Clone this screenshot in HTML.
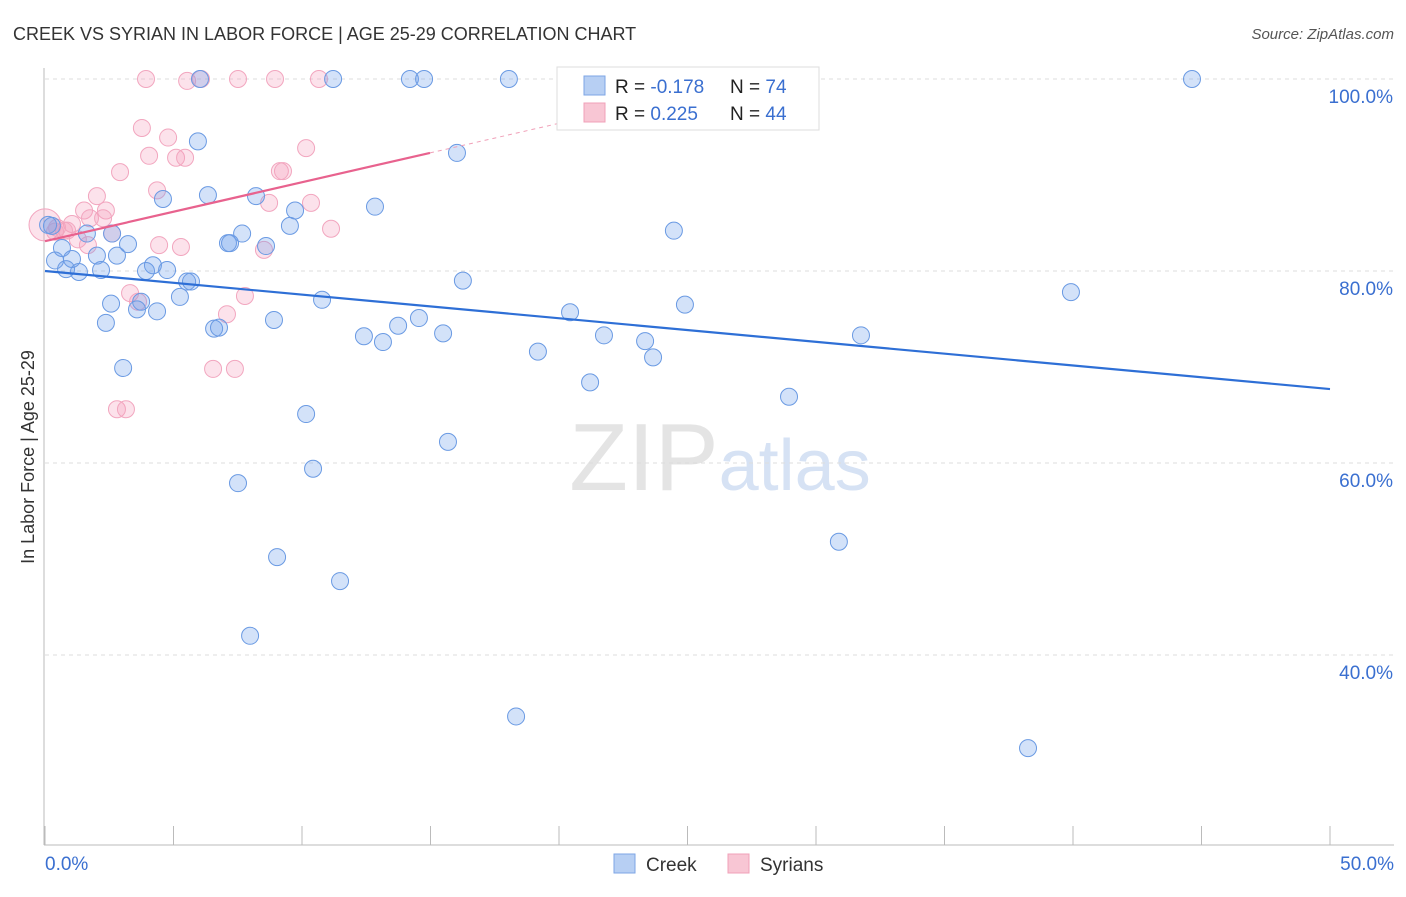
<!DOCTYPE html>
<html><head><meta charset="utf-8"><style>
body{margin:0;background:#fff;font-family:"Liberation Sans",sans-serif;}
svg text{font-family:"Liberation Sans",sans-serif;}
</style></head><body>
<svg id="chart" width="1406" height="892" viewBox="0 0 1406 892" xmlns="http://www.w3.org/2000/svg">
<text x="13" y="40" font-size="18" fill="#333">CREEK VS SYRIAN IN LABOR FORCE | AGE 25-29 CORRELATION CHART</text>
<text x="1394" y="39" font-size="15" fill="#555" text-anchor="end" font-style="italic">Source: ZipAtlas.com</text>
<text x="720" y="490" font-size="96" text-anchor="middle" fill="#e4e4e4" font-family="Liberation Serif"><tspan>ZIP</tspan><tspan fill="#d6e2f4" font-family="Liberation Sans" font-size="72">atlas</tspan></text>
<text transform="translate(34,457) rotate(-90)" font-size="18" fill="#333" text-anchor="middle">In Labor Force | Age 25-29</text>
<g id="grid"></g><g id="axes"></g><g id="pts"></g><g id="lines"></g>
<g>
<rect x="557" y="67" width="262" height="63" fill="#fff" stroke="#ddd"/>
<rect x="584" y="76" width="21" height="19" fill="#b7cff3" stroke="#7da6e6"/>
<rect x="584" y="103" width="21" height="19" fill="#f8c6d4" stroke="#f0a0b8"/>
<text x="615" y="93" font-size="19" fill="#222">R = <tspan fill="#3a6fd0">-0.178</tspan></text>
<text x="730" y="93" font-size="19" fill="#222">N = <tspan fill="#3a6fd0">74</tspan></text>
<text x="615" y="120" font-size="19" fill="#222">R = <tspan fill="#3a6fd0"> 0.225</tspan></text>
<text x="730" y="120" font-size="19" fill="#222">N = <tspan fill="#3a6fd0">44</tspan></text>
</g>
<g>
<rect x="614" y="854" width="21" height="19" fill="#b7cff3" stroke="#7da6e6"/>
<text x="646" y="871" font-size="19" fill="#333">Creek</text>
<rect x="728" y="854" width="21" height="19" fill="#f8c6d4" stroke="#f0a0b8"/>
<text x="760" y="871" font-size="19" fill="#333">Syrians</text>
</g>
</svg>
<script>
const creekX=[6.03,11.21,14.20,14.75,18.05,44.63,27.36,5.95,16.03,4.59,6.34,8.21,12.84,9.73,9.53,24.47,0.27,2.61,1.63,7.67,3.23,7.12,7.20,8.60,0.66,2.80,2.02,0.39,1.05,4.20,3.93,4.75,0.82,2.18,1.32,16.26,5.53,5.68,5.25,10.78,39.92,2.57,3.74,3.58,4.36,20.43,24.90,2.37,8.91,14.55,13.74,12.41,15.49,21.75,23.35,31.75,13.15,6.58,6.77,19.18,23.66,3.04,21.21,28.95,10.16,15.68,10.43,7.51,30.89,9.03,11.48,7.98,18.33,38.25,0.12];
const creekY=[100,100,100,100,100,100,100,93.5,92.3,87.5,87.9,87.8,86.7,86.3,84.7,84.2,84.7,83.9,83.9,83.9,82.8,82.9,82.9,82.6,82.4,81.6,81.6,81.1,81.25,80.6,80.0,80.1,80.2,80.1,79.9,79.0,78.9,78.9,77.3,77.0,77.8,76.6,76.8,76.0,75.8,75.7,76.5,74.6,74.9,75.1,74.3,73.2,73.5,73.3,72.7,73.3,72.6,74.0,74.1,71.6,71.0,69.9,68.4,66.9,65.1,62.2,59.4,57.9,51.8,50.2,47.7,42.0,33.6,30.3,84.8];
const syrX=[3.93,5.53,6.07,7.51,8.95,10.66,3.77,4.79,4.05,5.10,5.45,2.92,10.16,9.14,9.26,4.36,2.02,8.72,10.35,1.52,2.37,1.75,2.26,1.05,0.86,0.74,2.61,1.28,11.13,4.44,5.29,8.52,0,0.47,3.31,7.78,3.62,7.08,6.54,7.39,2.80,3.15,1.67,0.39];
const syrY=[100,99.8,100,100,100,100,94.9,93.9,92.0,91.8,91.8,90.3,92.8,90.4,90.4,88.4,87.8,87.1,87.1,86.3,86.3,85.5,85.5,84.9,84.2,84.2,83.9,83.3,84.4,82.7,82.5,82.2,84.8,84.5,77.7,77.4,76.8,75.5,69.8,69.8,65.6,65.6,82.7,84.1];
const creekTrend=[80.0,67.7];
const syrTrend=[83.1,92.3];
const yTicks=[100,80,60,40];
const yTickLabels=["100.0%","80.0%","60.0%","40.0%"];
const xTickLabels=["0.0%","50.0%"];

const X=v=>45+v/50*1285;
const Y=v=>79+(100-v)*9.6;
const NS="http://www.w3.org/2000/svg";
function mk(tag,parent,attrs){const e=document.createElementNS(NS,tag);for(const k in attrs)e.setAttribute(k,attrs[k]);document.getElementById(parent).appendChild(e);return e;}

yTicks.forEach((t,i)=>{
  const l=mk('line','grid',{x1:45,x2:1394,y1:Y(t),y2:Y(t),stroke:'#ddd','stroke-dasharray':'4,4'});
  
  
  const tx=mk('text','grid',{x:1393,y:Y(t)+24,'font-size':19,fill:'#3a6fd0','text-anchor':'end'});
  tx.textContent=yTickLabels[i];
  
  
});
const ax=mk('line','axes',{x1:44,x2:44,y1:68,y2:845,stroke:'#bbb'});


const bx=mk('line','axes',{x1:44,x2:1394,y1:845,y2:845,stroke:'#bbb'});


for(let i=0;i<=10;i++){
  const t=mk('line','axes',{x1:X(i*5),x2:X(i*5),y1:826,y2:845,stroke:'#bbb'});
  
  
}
const xl0=mk('text','axes',{x:45,y:870,'font-size':19,fill:'#3a6fd0'});
xl0.textContent=xTickLabels[0];


const xl1=mk('text','axes',{x:1394,y:870,'font-size':19,fill:'#3a6fd0','text-anchor':'end'});
xl1.textContent=xTickLabels[1];



syrX.forEach((v,i)=>{
  const r=(v===0)?16:8.5;
  const c=mk('circle','pts',{cx:X(v),cy:Y(syrY[i]),r:r,fill:'rgba(244,160,188,0.3)',stroke:'#f2a6bf','stroke-width':1});
  
  
});
creekX.forEach((v,i)=>{
  const c=mk('circle','pts',{cx:X(v),cy:Y(creekY[i]),r:8.5,fill:'rgba(110,160,235,0.3)',stroke:'#6a9ae3','stroke-width':1});
  
  
});
const cl=mk('line','lines',{x1:X(0),y1:Y(creekTrend[0]),x2:X(50),y2:Y(creekTrend[1]),stroke:'#2e6fd6','stroke-width':2.2});


const sx1=14.98, slope=(syrTrend[1]-syrTrend[0])/sx1;
const sl=mk('line','lines',{x1:X(0),y1:Y(syrTrend[0]),x2:X(sx1),y2:Y(syrTrend[1]),stroke:'#e8628e','stroke-width':2.2});


const sd=mk('line','lines',{x1:X(sx1),y1:Y(syrTrend[1]),x2:X(20),y2:Y(syrTrend[0]+slope*20),stroke:'#f0a0b8','stroke-width':1,'stroke-dasharray':'4,4'});


</script>
</body></html>
